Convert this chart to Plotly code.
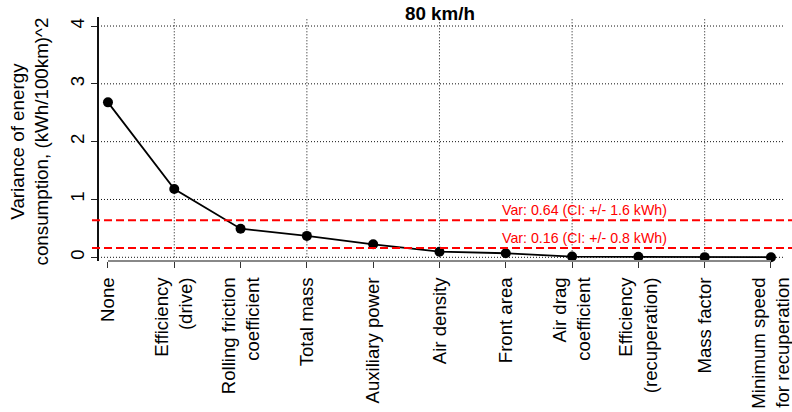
import plotly.graph_objects as go

# ---- data ----
categories = ["None", "Efficiency (drive)", "Rolling friction coefficient", "Total mass",
              "Auxiliary power", "Air density", "Front area", "Air drag coefficient",
              "Efficiency (recuperation)", "Mass factor", "Minimum speed for recuperation"]
tick_labels = ["None", "Efficiency<br>(drive)", "Rolling friction<br>coefficient", "Total mass",
               "Auxiliary power", "Air density", "Front area", "Air drag<br>coefficient",
               "Efficiency<br>(recuperation)", "Mass factor", "Minimum speed<br>for recuperation"]
variance = [2.68, 1.18, 0.495, 0.37, 0.225, 0.097, 0.07, 0.012, 0.008, 0.003, 0.001]
thresholds = [0.64, 0.16]
threshold_labels = ["Var: 0.64 (CI: +/- 1.6 kWh)", "Var: 0.16 (CI: +/- 0.8 kWh)"]
y_ticks = [0, 1, 2, 3, 4]
title = "80 km/h"

FONT = "Liberation Sans, Arial, sans-serif"
W, H = 792, 412
L, R, T, B = 81, 0, 17, 151
pw = W - L - R
ph = H - T - B

def px_to_xpaper(px):
    return (px - L) / pw

def px_to_ypaper(py):
    return (H - B - py) / ph

xpos = list(range(len(categories)))

fig = go.Figure()
fig.add_trace(go.Scatter(
    x=xpos, y=variance, mode="lines+markers",
    line=dict(color="black", width=1.8),
    marker=dict(color="black", size=10),
    showlegend=False, hoverinfo="skip", cliponaxis=False))

shapes = []
# horizontal dotted grid
for v in y_ticks:
    shapes.append(dict(type="line", xref="paper", yref="y",
                       x0=px_to_xpaper(98), x1=px_to_xpaper(783), y0=v, y1=v,
                       line=dict(color="#111", width=1, dash="1px,2px"), layer="below"))
# vertical dotted grid (every other category)
for i in xpos[1::2]:
    shapes.append(dict(type="line", xref="x", yref="paper",
                       x0=i, x1=i, y0=px_to_ypaper(257.3), y1=px_to_ypaper(18),
                       line=dict(color="#111", width=1, dash="1px,2px"), layer="below"))
# red threshold lines
for v in thresholds:
    shapes.append(dict(type="line", xref="paper", yref="y",
                       x0=px_to_xpaper(92), x1=1, y0=v, y1=v,
                       line=dict(color="#ff0000", width=2, dash="8px,4px")))
# x axis line (from first to last tick)
shapes.append(dict(type="line", xref="x", yref="paper", x0=xpos[0], x1=xpos[-1],
                   y0=0, y1=0, line=dict(color="#888", width=2)))

annotations = []
for v, lab in zip(thresholds, threshold_labels):
    annotations.append(dict(x=7.19, y=v + 0.17, xref="x", yref="y", text=lab, showarrow=False,
                            font=dict(family=FONT, size=14.2, color="#ff0000"),
                            xanchor="center", yanchor="middle"))
annotations.append(dict(x=px_to_xpaper(440), y=px_to_ypaper(14), xref="paper", yref="paper",
                        text="<b>" + title + "</b>", showarrow=False,
                        font=dict(family=FONT, size=18.8, color="black"),
                        xanchor="center", yanchor="middle"))
annotations.append(dict(x=px_to_xpaper(28.5), y=px_to_ypaper(142), xref="paper", yref="paper",
                        text="Variance of energy<br>consumption, (kWh/100km)^2", showarrow=False,
                        textangle=-90, font=dict(family=FONT, size=18.8, color="black"),
                        xanchor="center", yanchor="middle", align="center"))

fig.update_layout(
    width=W, height=H, margin=dict(l=L, r=R, t=T, b=B, pad=0),
    paper_bgcolor="white", plot_bgcolor="white",
    font=dict(family=FONT, size=18.6, color="black"),
    shapes=shapes, annotations=annotations,
    xaxis=dict(range=[-0.407, 10.317], tickmode="array", tickvals=xpos, ticktext=tick_labels,
               tickangle=-90, ticks="outside", ticklen=6, tickcolor="#333", tickwidth=1,
               showgrid=False, zeroline=False, showline=False, ticklabeloverflow="allow",
               tickfont=dict(family=FONT, size=18.6, color="black"), ticklabelstandoff=2),
    yaxis=dict(range=[-0.064, 4.156], tickmode="array", tickvals=y_ticks,
               ticktext=[str(v) for v in y_ticks], tickangle=-90,
               ticks="outside", ticklen=6, tickcolor="#222", tickwidth=1,
               showgrid=False, zeroline=False, showline=True, linecolor="#111", linewidth=1.5,
               anchor="free", position=px_to_xpaper(98),
               tickfont=dict(family=FONT, size=18.6, color="black")),
)

fig.write_html("out.html")
